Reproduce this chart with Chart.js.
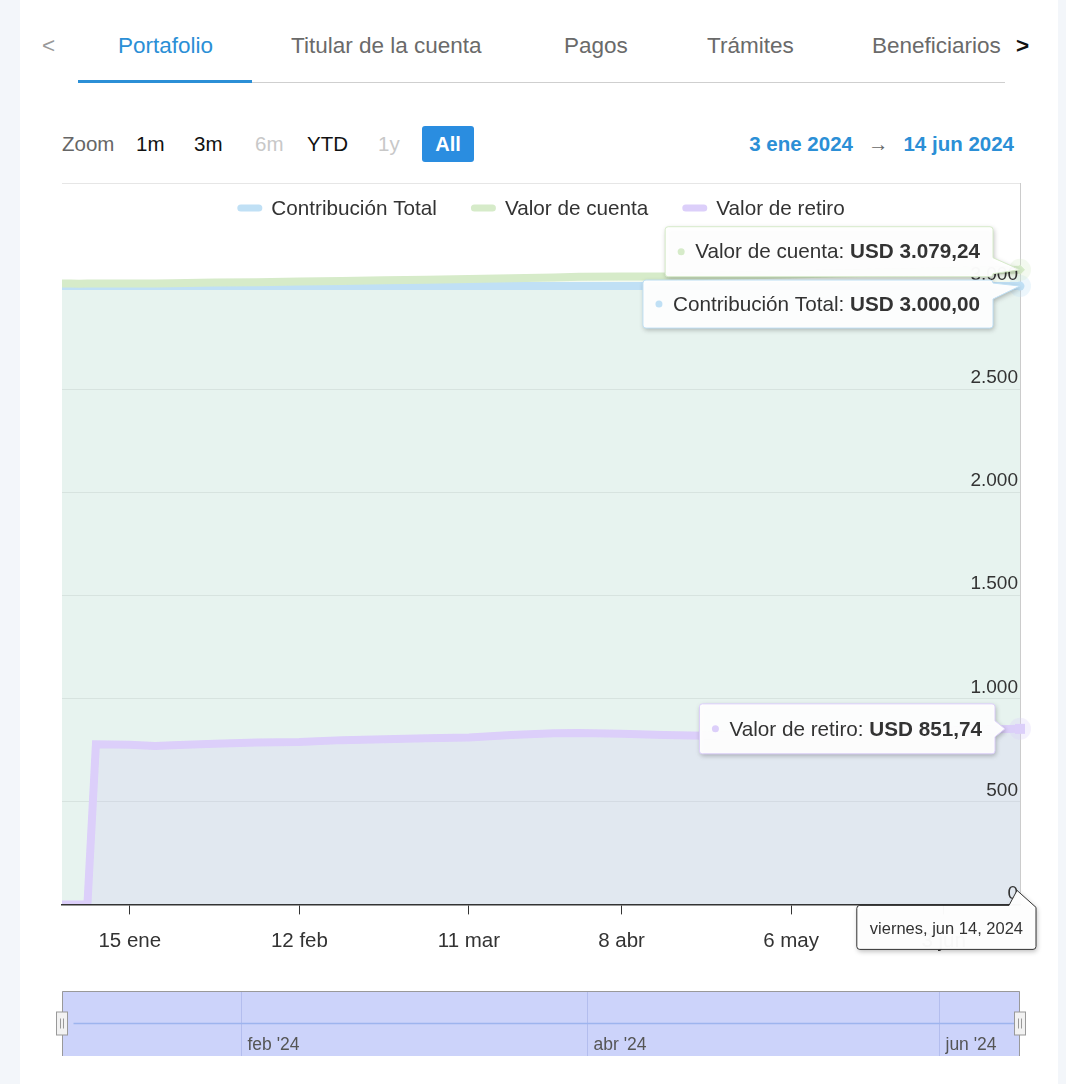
<!DOCTYPE html>
<html lang="es">
<head>
  <meta charset="UTF-8" />
  <title>Portafolio</title>
  <script src="https://cdn.jsdelivr.net/npm/chart.js"></script>
  <style>
    html, body { margin: 0; padding: 0; }
    body {
      width: 1066px;
      height: 1084px;
      background: #f3f6fa;
      font-family: "Liberation Sans", Arial, sans-serif;
      position: relative;
      overflow: hidden;
    }
    .card { position: absolute; left: 20px; top: 0; width: 1038px; height: 1084px; background: #fff; }
    .abs { position: absolute; white-space: nowrap; }
    .tab { top: 32px; font-size: 22.5px; line-height: 28px; color: #6a6a6a; }
    .tab.activa { color: #2b8fd6; }
    .zoom { top: 132px; font-size: 20.5px; line-height: 24px; color: #111; }
    .zoom.off { color: #c8c8c8; }
    .boton {
      left: 422px; top: 126px; width: 52px; height: 36px; line-height: 36px;
      background: #2a8de0; color: #fff; font-weight: bold; font-size: 20px;
      text-align: center; border-radius: 3px;
    }
    .rango { right: 52px; top: 132px; font-size: 20.5px; line-height: 24px; font-weight: bold; color: #2b8fd6; }
    .rango .flecha { color: #666; font-weight: normal; margin: 0 15px; }
    canvas { position: absolute; left: 0; }
  </style>
</head>
<body>
  <div class="card"></div>

  <!-- pestañas -->
  <div class="abs tab" style="left:42px; color:#999;">&lt;</div>
  <div class="abs tab activa" style="left:118px;">Portafolio</div>
  <div class="abs tab" style="left:291px;">Titular de la cuenta</div>
  <div class="abs tab" style="left:564px;">Pagos</div>
  <div class="abs tab" style="left:707px;">Trámites</div>
  <div class="abs tab" style="left:872px;">Beneficiarios</div>
  <div class="abs tab" style="left:1016px; color:#111; font-weight:bold;">&gt;</div>
  <div class="abs" style="left:78px; top:82px; width:927px; height:1px; background:#cfcfcf;"></div>
  <div class="abs" style="left:78px; top:80px; width:174px; height:3px; background:#2b8fd6;"></div>

  <!-- selector de rango -->
  <div class="abs zoom" style="left:62px; color:#666;">Zoom</div>
  <div class="abs zoom" style="left:136px;">1m</div>
  <div class="abs zoom" style="left:194px;">3m</div>
  <div class="abs zoom off" style="left:255px;">6m</div>
  <div class="abs zoom" style="left:307px;">YTD</div>
  <div class="abs zoom off" style="left:378px;">1y</div>
  <div class="abs boton">All</div>
  <div class="abs rango"><span id="desde"></span><span class="flecha">→</span><span id="hasta"></span></div>

  <canvas id="grafico" width="1066" height="800" style="top:170px;"></canvas>
  <canvas id="navegador" width="1066" height="100" style="top:975px;"></canvas>

  <script>
    // datos
    const fechas = ['2024-01-03', '2024-01-04', '2024-01-05', '2024-01-08', '2024-01-09', '2024-01-15',
      '2024-01-18', '2024-01-22', '2024-01-29', '2024-02-05', '2024-02-12', '2024-02-19', '2024-02-26',
      '2024-03-04', '2024-03-11', '2024-03-18', '2024-03-25', '2024-04-01', '2024-04-08', '2024-04-15',
      '2024-04-22', '2024-04-29', '2024-05-06', '2024-05-13', '2024-05-20', '2024-05-27', '2024-06-03',
      '2024-06-10', '2024-06-14'];
    const contribucion = [3000, 3000, 3000, 3000, 3000, 3000, 3000, 3000, 3000, 3000, 3000, 3000, 3000,
      3000, 3000, 3000, 3000, 3000, 3000, 3000, 3000, 3000, 3000, 3000, 3000, 3000, 3000, 3000, 3000];
    const valorCuenta = [3012, 3012, 3011, 3012, 3012, 3013, 3013, 3014, 3017, 3019, 3022, 3025, 3028,
      3031, 3034, 3038, 3042, 3045, 3046, 3046, 3049, 3052, 3056, 3061, 3065, 3068, 3072, 3076, 3079.24];
    const valorRetiro = [0, 0, 0, 0, 777, 775, 768, 772, 780, 785, 788, 797, 801,
      806, 810, 822, 830, 831, 828, 822, 818, 820, 826, 831, 836, 840, 844, 849, 851.74];
    const nombres = ['Contribución Total', 'Valor de cuenta', 'Valor de retiro'];

    // días sin cotización (eje ordinal)
    const sinDatos = ['2024-03-28', '2024-03-29', '2024-05-30', '2024-05-31'];

    const ticksFechas = ['2024-01-15', '2024-02-12', '2024-03-11', '2024-04-08', '2024-05-06', '2024-06-03'];
    const ticksEtiquetas = ['15 ene', '12 feb', '11 mar', '8 abr', '6 may', '3 jun'];

    const navInicio = '2024-01-01';
    const navFin = '2024-06-15';
    const navTicksFechas = ['2024-02-01', '2024-04-01', '2024-06-01'];
    const navTicksEtiquetas = ["feb '24", "abr '24", "jun '24"];

    const colores = ['#c0e0f5', '#d6ebc9', '#dccffa'];
    const rellenos = ['rgba(180,215,240,0.22)', 'rgba(200,230,190,0.22)', 'rgba(200,190,245,0.2)'];
    const marcadores = ['circle', 'rectRot', 'rect'];
    const meses = ['ene', 'feb', 'mar', 'abr', 'may', 'jun', 'jul', 'ago', 'sep', 'oct', 'nov', 'dic'];
    const dias = ['domingo', 'lunes', 'martes', 'miércoles', 'jueves', 'viernes', 'sábado'];
    const FUENTE = '"Liberation Sans", Arial, sans-serif';
    const TXT = '20.7px ' + FUENTE;

    function dia(s) {
      return Date.UTC(+s.slice(0, 4), +s.slice(5, 7) - 1, +s.slice(8, 10)) / 86400000;
    }

    // sesiones con datos entre la primera y la última fecha
    const sesiones = [];
    for (let d = dia(fechas[0]); d <= dia(fechas[fechas.length - 1]); d++) {
      const f = new Date(d * 86400000);
      const iso = f.toISOString().slice(0, 10);
      if (f.getUTCDay() !== 0 && f.getUTCDay() !== 6 && !sinDatos.includes(iso)) sesiones.push(iso);
    }
    const pos = f => sesiones.indexOf(f);
    const ticksPos = ticksFechas.map(pos);

    function miles(v, dec) {
      const p = v.toFixed(dec || 0).split('.');
      const ent = p[0].replace(/\B(?=(\d{3})+(?!\d))/g, '.');
      return p.length > 1 ? ent + ',' + p[1] : ent;
    }
    function fechaCorta(s) {
      return +s.slice(8, 10) + ' ' + meses[+s.slice(5, 7) - 1] + ' ' + s.slice(0, 4);
    }
    function fechaLarga(s) {
      const f = new Date(dia(s) * 86400000);
      return dias[f.getUTCDay()] + ', ' + meses[f.getUTCMonth()] + ' ' + f.getUTCDate() + ', ' + f.getUTCFullYear();
    }

    document.getElementById('desde').textContent = fechaCorta(fechas[0]);
    document.getElementById('hasta').textContent = fechaCorta(fechas[fechas.length - 1]);

    const valores = [contribucion, valorCuenta, valorRetiro];

    // caja de tooltip con punta hacia la derecha o hacia arriba
    function caja(ctx, x, y, w, h, punta, lado) {
      const r = 3;
      ctx.beginPath();
      ctx.moveTo(x + r, y);
      if (lado === 'arriba') {
        ctx.lineTo(punta.x - 8, y);
        ctx.lineTo(punta.x, punta.y);
        ctx.lineTo(x + w, y + 2);
      } else {
        ctx.lineTo(x + w - r, y);
        ctx.arcTo(x + w, y, x + w, y + r, r);
      }
      if (lado === 'der') {
        const c = Math.max(y + r + 8, Math.min(punta.y, y + h - r - 8));
        ctx.lineTo(x + w, c - 8);
        ctx.lineTo(punta.x, punta.y);
        ctx.lineTo(x + w, c + 8);
      }
      ctx.lineTo(x + w, y + h - r);
      ctx.arcTo(x + w, y + h, x + w - r, y + h, r);
      ctx.lineTo(x + r, y + h);
      ctx.arcTo(x, y + h, x, y + h - r, r);
      ctx.lineTo(x, y + r);
      ctx.arcTo(x, y, x + r, y, r);
      ctx.closePath();
    }

    function pintarCaja(ctx, x, y, w, h, punta, lado, borde) {
      ctx.save();
      caja(ctx, x, y, w, h, punta, lado);
      ctx.shadowColor = 'rgba(0,0,0,0.28)';
      ctx.shadowBlur = 5;
      ctx.shadowOffsetX = 1;
      ctx.shadowOffsetY = 2;
      ctx.fillStyle = 'rgba(255,255,255,0.97)';
      ctx.fill();
      ctx.restore();
      ctx.save();
      caja(ctx, x, y, w, h, punta, lado);
      ctx.strokeStyle = borde;
      ctx.lineWidth = 1;
      ctx.stroke();
      ctx.restore();
    }

    const extras = {
      id: 'extras',
      afterDatasetsDraw(chart) {
        const ctx = chart.ctx;
        chart.data.datasets.forEach((ds, i) => {
          const meta = chart.getDatasetMeta(i);
          const p = meta.data[meta.data.length - 1];
          ctx.save();
          ctx.globalAlpha = 0.3;
          ctx.fillStyle = colores[i];
          ctx.beginPath();
          ctx.arc(p.x, p.y, 11, 0, Math.PI * 2);
          ctx.fill();
          ctx.restore();
          ctx.save();
          ctx.fillStyle = colores[i];
          ctx.beginPath();
          if (marcadores[i] === 'rect') ctx.rect(p.x - 5, p.y - 5, 10, 10);
          else if (marcadores[i] === 'rectRot') { ctx.moveTo(p.x, p.y - 5); ctx.lineTo(p.x + 5, p.y); ctx.lineTo(p.x, p.y + 5); ctx.lineTo(p.x - 5, p.y); }
          else ctx.arc(p.x, p.y, 4.5, 0, Math.PI * 2);
          ctx.fill();
          ctx.restore();
        });
      },
      afterDraw(chart) {
        const ctx = chart.ctx;
        const area = chart.chartArea;

        // leyenda dentro del área
        ctx.save();
        ctx.font = TXT;
        ctx.textBaseline = 'middle';
        const items = nombres.map((n, i) => ({n, c: colores[i], w: 34 + ctx.measureText(n).width}));
        const total = items.reduce((s, it) => s + it.w, 0) + 34 * (items.length - 1);
        let lx = (area.left + area.right) / 2 - total / 2;
        const ly = area.top + 25;
        items.forEach(it => {
          ctx.fillStyle = it.c;
          ctx.beginPath();
          ctx.roundRect(lx, ly - 3.5, 25, 7, 3.5);
          ctx.fill();
          ctx.fillStyle = '#333';
          ctx.fillText(it.n, lx + 34, ly + 1);
          lx += it.w + 34;
        });
        ctx.restore();

        // tooltips divididos en el último punto
        const desplaz = [18, -18, 0];
        const orden = [1, 0, 2];
        orden.forEach(i => {
          const meta = chart.getDatasetMeta(i);
          const p = meta.data[meta.data.length - 1];
          const serie = valores[i];
          const v = serie[serie.length - 1];
          const t1 = nombres[i] + ': ';
          const t2 = 'USD ' + miles(v, 2);
          ctx.save();
          ctx.font = TXT;
          const w1 = ctx.measureText(t1).width;
          ctx.font = 'bold ' + TXT;
          const w2 = ctx.measureText(t2).width;
          const w = 30 + w1 + w2 + 13;
          const h = i === 0 ? 48 : 50;
          const der = i === 2 ? p.x - 25 : p.x - 27;
          const cy = p.y + desplaz[i];
          const x = der - w;
          const y = cy - h / 2;
          const punta = i === 2 ? {x: der + 10, y: p.y} : {x: p.x, y: p.y};
          pintarCaja(ctx, x, y, w, h, punta, 'der', colores[i]);
          ctx.fillStyle = colores[i];
          ctx.beginPath();
          ctx.arc(x + 16, cy, 3.5, 0, Math.PI * 2);
          ctx.fill();
          ctx.textBaseline = 'middle';
          ctx.fillStyle = '#333';
          ctx.font = TXT;
          ctx.fillText(t1, x + 30, cy + 1);
          ctx.font = 'bold ' + TXT;
          ctx.fillText(t2, x + 30 + w1, cy + 1);
          ctx.restore();
        });

        // etiqueta de fecha en el eje x
        const meta = chart.getDatasetMeta(0);
        const p = meta.data[meta.data.length - 1];
        const texto = fechaLarga(fechas[fechas.length - 1]);
        ctx.save();
        ctx.font = '16.5px ' + FUENTE;
        const tw = ctx.measureText(texto).width;
        const w = tw + 26;
        const x = p.x + 16 - w;
        const y = area.bottom + 1;
        pintarCaja(ctx, x, y, w, 44, {x: p.x - 3, y: area.bottom - 14}, 'arriba', '#333');
        ctx.fillStyle = '#333';
        ctx.textAlign = 'center';
        ctx.textBaseline = 'middle';
        ctx.fillText(texto, x + w / 2, y + 24);
        ctx.restore();
      }
    };

    new Chart(document.getElementById('grafico'), {
      type: 'line',
      data: {
        datasets: valores.map((serie, i) => ({
          label: nombres[i],
          data: fechas.map((f, k) => ({x: pos(f), y: serie[k]})),
          borderColor: colores[i],
          backgroundColor: rellenos[i],
          borderWidth: 8,
          pointRadius: 0,
          tension: 0,
          fill: 'origin',
          order: 3 - i
        }))
      },
      options: {
        responsive: false,
        animation: false,
        layout: {padding: {left: 62, right: 46, top: 13, bottom: 1}},
        plugins: {
          legend: {display: false},
          tooltip: {enabled: false},
          filler: {drawTime: 'beforeDatasetsDraw'}
        },
        scales: {
          x: {
            type: 'linear',
            min: 0,
            max: sesiones.length - 1,
            afterBuildTicks: s => { s.ticks = ticksPos.map(v => ({value: v})); },
            ticks: {
              autoSkip: false,
              maxRotation: 0,
              padding: 15,
              color: '#333',
              font: {size: 20.5, family: FUENTE},
              callback: v => {
                const k = ticksPos.indexOf(v);
                return k >= 0 ? ticksEtiquetas[k] : '';
              }
            },
            grid: {drawOnChartArea: false, drawTicks: true, tickLength: 10, color: '#333', lineWidth: 1},
            border: {color: '#333', width: 1.5, z: 1}
          },
          y: {
            position: 'right',
            min: 0,
            max: 3500,
            ticks: {
              stepSize: 500,
              mirror: true,
              padding: -2,
              labelOffset: -11,
              z: 1,
              color: '#333',
              font: {size: 19, family: FUENTE},
              callback: v => (v >= 3500 ? '' : miles(v))
            },
            grid: {color: '#e6e6e6', drawTicks: false},
            border: {display: true, color: '#cccccc'}
          }
        }
      },
      plugins: [extras]
    });

    // navegador inferior
    const navFondo = {
      id: 'navFondo',
      beforeDatasetsDraw(chart) {
        const ctx = chart.ctx;
        const a = chart.chartArea;
        const sx = chart.scales.x;
        ctx.save();
        ctx.fillStyle = '#ccd3fa';
        ctx.fillRect(a.left, a.top, a.right - a.left, a.bottom - a.top);
        ctx.strokeStyle = '#b3bdee';
        ctx.lineWidth = 1;
        ctx.font = '17.5px ' + FUENTE;
        ctx.fillStyle = '#555';
        ctx.textBaseline = 'middle';
        navTicksFechas.forEach((f, i) => {
          const gx = Math.round(sx.getPixelForValue(dia(f))) + 0.5;
          ctx.beginPath();
          ctx.moveTo(gx, a.top);
          ctx.lineTo(gx, a.bottom);
          ctx.stroke();
          ctx.fillText(navTicksEtiquetas[i], gx + 6, a.bottom - 11);
        });
        ctx.restore();
      },
      afterDraw(chart) {
        const ctx = chart.ctx;
        const a = chart.chartArea;
        ctx.save();
        ctx.strokeStyle = '#999';
        ctx.lineWidth = 1;
        ctx.beginPath();
        ctx.moveTo(a.left + 0.5, a.bottom);
        ctx.lineTo(a.left + 0.5, a.top + 0.5);
        ctx.lineTo(a.right - 0.5, a.top + 0.5);
        ctx.lineTo(a.right - 0.5, a.bottom);
        ctx.stroke();
        const my = (a.top + a.bottom) / 2 - 10;
        [a.left, a.right].forEach(hx => {
          ctx.fillStyle = '#f2f2f2';
          ctx.fillRect(Math.round(hx) - 5.5, my - 1.5, 11, 23);
          ctx.strokeRect(Math.round(hx) - 5.5, my - 1.5, 11, 23);
          ctx.beginPath();
          ctx.moveTo(Math.round(hx) - 1.5, my + 5);
          ctx.lineTo(Math.round(hx) - 1.5, my + 15);
          ctx.moveTo(Math.round(hx) + 1.5, my + 5);
          ctx.lineTo(Math.round(hx) + 1.5, my + 15);
          ctx.stroke();
        });
        ctx.restore();
      }
    };

    new Chart(document.getElementById('navegador'), {
      type: 'line',
      data: {
        datasets: [{
          data: fechas.map((f, k) => ({x: dia(f), y: contribucion[k]})),
          borderColor: '#9db4ee',
          borderWidth: 1.5,
          pointRadius: 0,
          fill: false
        }]
      },
      options: {
        responsive: false,
        animation: false,
        layout: {padding: {left: 62, right: 46, top: 16, bottom: 19}},
        plugins: {legend: {display: false}, tooltip: {enabled: false}},
        scales: {
          x: {type: 'linear', min: dia(navInicio), max: dia(navFin), display: false},
          y: {min: 2000, max: 4000, display: false}
        }
      },
      plugins: [navFondo]
    });
  </script>
</body>
</html>
